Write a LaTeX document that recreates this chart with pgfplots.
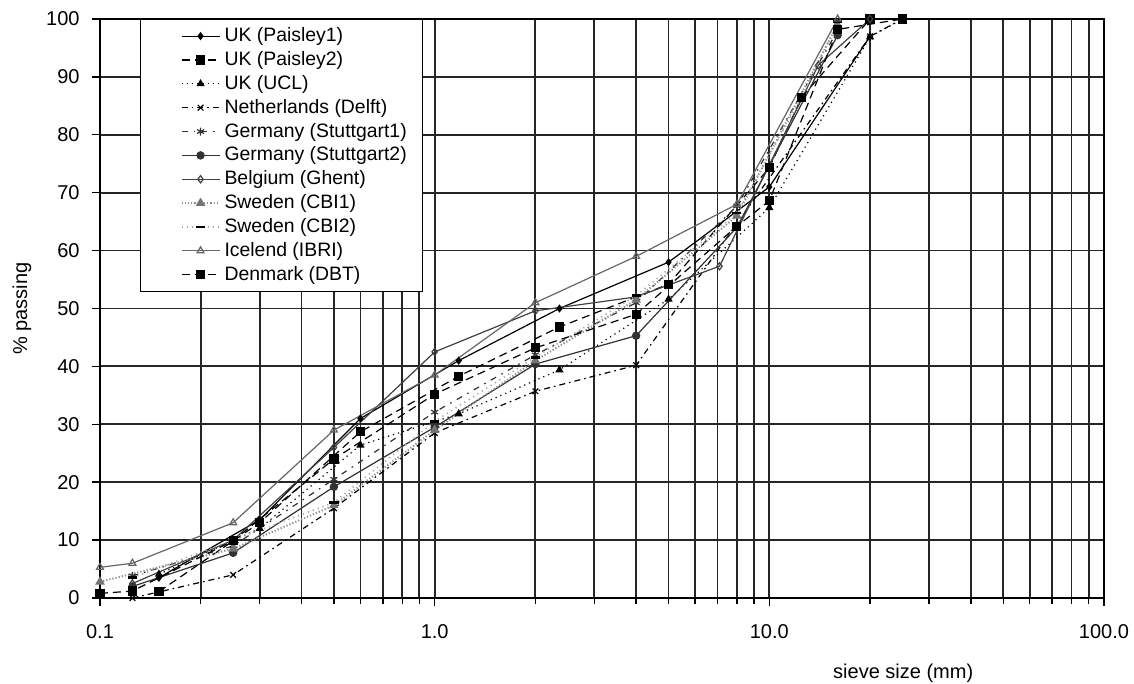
\documentclass[border=0pt]{standalone}
\usepackage{fontspec}
\setmainfont{Liberation Sans}
\usepackage{pgfplots}
\pgfplotsset{compat=1.18}
\begin{document}
\begin{tikzpicture}[font=\fontsize{10}{12}\selectfont]
\begin{axis}[
  scale only axis,
  width=502pt, height=289.5pt,
  xmode=log, log basis x=10,
  xmin=0.1, xmax=100, ymin=0, ymax=100,
  xtick={0.1,1,10,100},
  xticklabels={0.1,1.0,10.0,100.0},
  minor xtick={0.2,0.3,0.4,0.5,0.6,0.7,0.8,0.9,2,3,4,5,6,7,8,9,20,30,40,50,60,70,80,90},
  ytick={0,10,...,100},
  /pgf/number format/assume math mode=true,
  grid=both,
  major grid style={black!85, line width=0.9pt},
  minor grid style={black!85, line width=0.9pt},
  axis line style={black, line width=0.9pt},
  tick align=outside,
  xtick pos=left, ytick pos=left,
  major tick length=4pt, minor tick length=3pt,
  tick style={black, line width=0.7pt},
  yticklabel style={xshift=-2.7pt},
  xticklabel style={yshift=-5.5pt},
  xlabel={sieve size (mm)},
  ylabel={\% passing},
  xlabel style={at={(axis description cs:0.80,-0.1295)}, anchor=center},
  ylabel style={at={(axis description cs:-0.0777,0.5)}, anchor=center},
  legend cell align=left,
  legend style={at={(rel axis cs:0.0398,1)}, anchor=north west, draw=black, line width=0.6pt, fill=white,
    inner xsep=6pt, inner ysep=2pt, row sep=-0.6pt, font=\fontsize{9.7}{12}\selectfont},
  legend image code/.code={\path (0pt,0pt); \draw[mark repeat=2,mark phase=2,#1] plot coordinates {(14pt,0pt)(23.5pt,0pt)(33pt,0pt)};},
  every axis plot/.append style={line width=0.6pt, mark size=1.6pt},
]
% UK (Paisley1)
\addplot[black, solid, mark=diamond*, mark options={solid}] coordinates {
(0.15,3.5)(0.3,13.5)(0.6,31)(1.18,41)(2.36,50)(5,58)(10,71)(20,97)};
\addlegendentry{UK (Paisley1)}
% UK (Paisley2)
\addplot[black, dash pattern=on 4pt off 2.5pt, mark=square*, mark size=2pt, mark options={solid}] coordinates {
(0.15,1.1)(0.3,13)(0.6,28.7)(1.18,38.3)(2.36,46.8)(5,54.2)(10,74.3)(12.5,86.5)(20,100)};
\addlegendentry{UK (Paisley2)}
% UK (UCL)
\addplot[black, dotted, mark=triangle*, mark size=1.8pt, mark options={solid}] coordinates {
(0.15,4.1)(0.3,12)(0.6,26.4)(1.18,31.8)(2.36,39.4)(5,51.6)(10,67.4)(20,96.9)(25,100)};
\addlegendentry{UK (UCL)}
% Netherlands (Delft)
\addplot[black, dash pattern=on 3pt off 2pt on 0.8pt off 2pt, mark=x, mark size=2pt, mark options={solid}] coordinates {
(0.125,0)(0.25,4)(0.5,15.5)(1,28.5)(2,35.7)(4,40.2)(20,97)(25,100)};
\addlegendentry{Netherlands (Delft)}
% Germany (Stuttgart1)
\addplot[black!80, dash pattern=on 3pt off 3pt on 0.8pt off 3pt, mark=asterisk, mark size=2pt, mark options={solid}] coordinates {
(0.125,3.8)(0.25,9)(0.5,20.5)(1,32.1)(2,42)(4,51)(8,67.7)(16,98)};
\addlegendentry{Germany (Stuttgart1)}
% Germany (Stuttgart2)
\addplot[black!80, solid, mark=*, mark size=1.8pt] coordinates {
(0.125,2)(0.25,7.8)(0.5,19.2)(1,29.5)(2,40.4)(4,45.3)(8,64)(16,97.2)};
\addlegendentry{Germany (Stuttgart2)}
% Belgium (Ghent)
\addplot[black!75, solid, mark=diamond, mark size=1.8pt, mark options={fill=white}] coordinates {
(0.125,2.5)(0.25,10)(0.5,26)(1,42.5)(2,49.6)(4,52)(7.1,57.3)(14,92)(20,100)};
\addlegendentry{Belgium (Ghent)}
% Sweden (CBI1)
\addplot[black!45, densely dotted, line width=1pt, mark=triangle*, mark size=1.8pt, mark options={solid, fill=black!55, draw=black!55}] coordinates {
(0.1,2.8)(0.25,8.5)(0.5,16)(1,29)(2,41)(4,51.5)(8,66)(16,99)};
\addlegendentry{Sweden (CBI1)}
% Sweden (CBI2)
\addplot[black!35, dotted, line width=0.8pt, mark=-, mark size=2.3pt, mark options={solid, black, line width=1.4pt}] coordinates {
(0.125,3.5)(0.25,10)(0.5,16.5)(1,30.5)(2,41.6)(4,52.2)(8,66.5)(12.5,86.5)(16,99.5)};
\addlegendentry{Sweden (CBI2)}
% Icelend (IBRI)
\addplot[black!60, solid, mark=triangle, mark size=2pt, mark options={fill=white, draw=black!60}] coordinates {
(0.1,5.3)(0.125,6)(0.25,13)(0.5,29)(1,38.5)(2,51)(4,59)(8,68)(16,100)};
\addlegendentry{Icelend (IBRI)}
% Denmark (DBT)
\addplot[black, dash pattern=on 4pt off 2.5pt, mark=square*, mark size=2pt, mark options={solid}] coordinates {
(0.1,0.8)(0.125,1.2)(0.25,9.9)(0.5,24)(1,35.2)(2,43.2)(4,49)(8,64.2)(10,68.6)(16,98.2)(25,100)};
\addlegendentry{Denmark (DBT)}
\end{axis}
\pgfresetboundingbox
\path ([shift={(-50pt,-43pt)}]current axis.south west) rectangle ([shift={(15pt,9.5pt)}]current axis.north east);
\end{tikzpicture}
\end{document}
